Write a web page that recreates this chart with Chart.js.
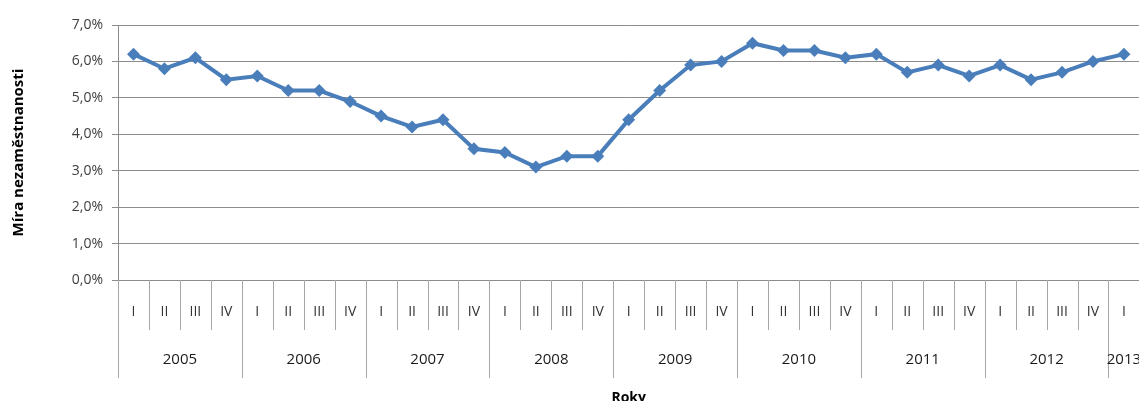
<!DOCTYPE html>
<html>
<head>
<meta charset="utf-8">
<script src="https://cdn.jsdelivr.net/npm/chart.js@4/dist/chart.umd.min.js"></script>
<style>
    html, body { margin: 0; padding: 0; background: #fff; overflow: hidden; }
    #wrap { position: relative; width: 1150px; height: 412px; }
</style>
</head>
<body>
<div id="wrap"><canvas id="chart" width="1150" height="412"></canvas></div>
<script>
// Dados do gráfico
const years = ['2005', '2006', '2007', '2008', '2009', '2010', '2011', '2012', '2013'];
const quarterNames = ['I', 'II', 'III', 'IV'];
const unemployment = [
    6.2, 5.8, 6.1, 5.5,
    5.6, 5.2, 5.2, 4.9,
    4.5, 4.2, 4.4, 3.6,
    3.5, 3.1, 3.4, 3.4,
    4.4, 5.2, 5.9, 6.0,
    6.5, 6.3, 6.3, 6.1,
    6.2, 5.7, 5.9, 5.6,
    5.9, 5.5, 5.7, 6.0,
    6.2
];
const yTicks = [0, 1, 2, 3, 4, 5, 6, 7];

const labels = unemployment.map((v, i) => quarterNames[i % 4]);
const yearOf = unemployment.map((v, i) => years[Math.floor(i / 4)]);

const FONT = '"Open Sans", "Noto Sans", sans-serif';

// Tabela de categorias abaixo do eixo X (separadores e anos)
const categoryTable = {
    id: 'categoryTable',
    afterDraw(chart) {
        const x = chart.scales.x;
        const ctx = chart.ctx;
        const base = chart.chartArea.bottom;
        const w = x.getPixelForValue(1) - x.getPixelForValue(0);
        ctx.save();
        ctx.strokeStyle = '#a6a6a6';
        ctx.lineWidth = 1;
        for (let i = 0; i < labels.length; i++) {
            const bx = Math.round(x.getPixelForValue(i) - w / 2) + 0.5;
            const yearStart = i % 4 === 0;
            ctx.beginPath();
            ctx.moveTo(bx, base);
            ctx.lineTo(bx, base + (yearStart ? 98 : 50));
            ctx.stroke();
        }
        // Anos
        ctx.fillStyle = '#1a1a1a';
        ctx.font = '15px ' + FONT;
        ctx.textAlign = 'center';
        ctx.textBaseline = 'middle';
        years.forEach(yr => {
            const idx = yearOf.map((y, i) => y === yr ? i : -1).filter(i => i >= 0);
            if (!idx.length) return;
            const cx = (x.getPixelForValue(idx[0]) + x.getPixelForValue(idx[idx.length - 1])) / 2;
            ctx.fillText(yr, cx, base + 80);
        });
        ctx.restore();
    }
};

new Chart(document.getElementById('chart'), {
    type: 'line',
    data: {
        labels: labels,
        datasets: [{
            label: 'Míra nezaměstnanosti',
            data: unemployment,
            borderColor: '#4a7ebb',
            backgroundColor: '#4a7ebb',
            borderWidth: 4,
            tension: 0,
            pointStyle: 'rectRot',
            pointRadius: 6.5,
            pointBorderWidth: 0,
            pointBackgroundColor: '#4a7ebb'
        }]
    },
    options: {
        responsive: false,
        animation: false,
        layout: {
            padding: { top: 25, left: 0, right: 0, bottom: 0 }
        },
        plugins: {
            legend: { display: false },
            tooltip: { enabled: false }
        },
        scales: {
            x: {
                type: 'category',
                offset: true,
                grid: { display: false, drawTicks: false },
                border: { display: false },
                ticks: {
                    color: '#333',
                    font: { family: FONT, size: 14 },
                    padding: 24,
                    maxRotation: 0,
                    autoSkip: false
                },
                title: {
                    display: true,
                    text: 'Roky',
                    color: '#000',
                    font: { family: FONT, size: 14, weight: 'bold' },
                    padding: { top: 0, bottom: 6 }
                },
                afterFit(scale) { scale.height = 132; }
            },
            y: {
                min: 0,
                max: 7,
                afterBuildTicks(scale) {
                    scale.ticks = yTicks.map(v => ({ value: v }));
                },
                grid: {
                    color: '#8c8c8c',
                    lineWidth: 1,
                    drawTicks: true,
                    tickLength: 6
                },
                border: { display: true, color: '#8c8c8c', width: 1 },
                ticks: {
                    color: '#404040',
                    font: { family: FONT, size: 14 },
                    padding: 9,
                    callback: v => v.toFixed(1).replace('.', ',') + '%'
                },
                title: {
                    display: true,
                    text: 'Míra nezaměstnanosti',
                    color: '#000',
                    font: { family: FONT, size: 15, weight: 'bold' },
                    padding: { top: 10, bottom: 0 }
                },
                afterFit(scale) { scale.width = 118; }
            }
        }
    },
    plugins: [categoryTable]
});
</script>
</body>
</html>
